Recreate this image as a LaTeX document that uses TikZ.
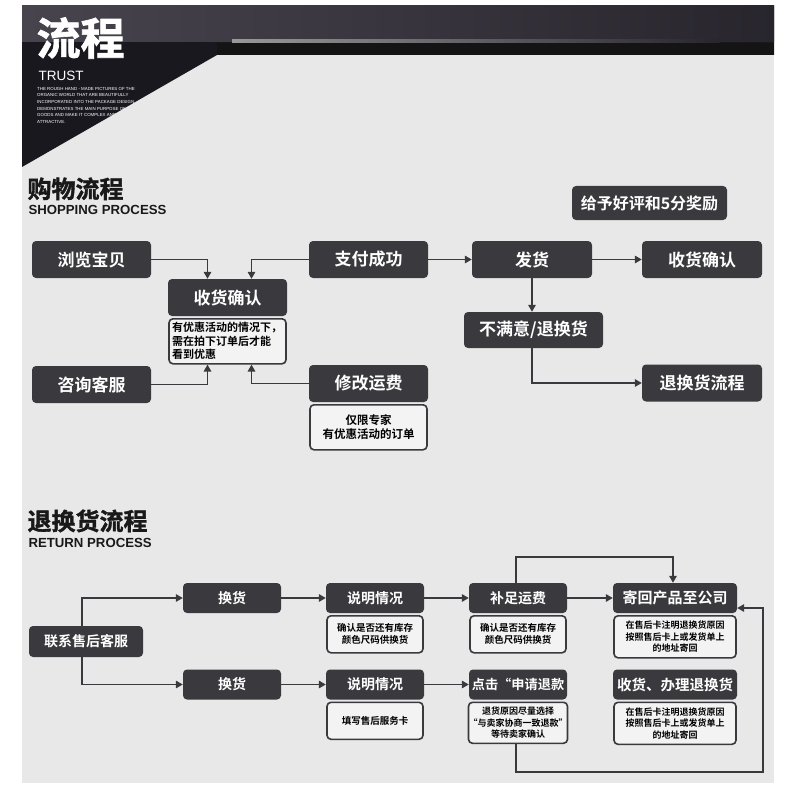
\documentclass[tikz,border=0pt]{standalone}
\usepackage{fontspec}
\setmainfont{Noto Sans CJK SC}[BoldFont={Noto Sans CJK SC Bold}]
\newfontfamily\latin{Liberation Sans}
\usetikzlibrary{arrows.meta,positioning,calc}
\definecolor{boxgray}{RGB}{58,57,62}
\definecolor{bggray}{RGB}{232,232,232}
\definecolor{notefill}{RGB}{243,243,243}
\definecolor{headdark}{RGB}{26,24,31}
\definecolor{headband}{RGB}{72,68,78}

\begin{document}
\begin{tikzpicture}[x=1pt,y=-1pt,>=Stealth,
  box/.style={fill=boxgray,rounded corners=4pt,text=white,inner sep=0pt,
              minimum width=119pt,minimum height=37pt,
              font=\bfseries\fontsize{17}{19}\selectfont},
  note/.style={draw=boxgray,line width=1.6pt,fill=notefill,rounded corners=4pt,
               inner sep=0pt,align=center,minimum width=117pt,minimum height=45pt,
               font=\bfseries\fontsize{11}{13.5}\selectfont},
  sbox/.style={fill=boxgray,rounded corners=4pt,text=white,inner sep=0pt,
               minimum width=98pt,minimum height=30pt,
               font=\bfseries\fontsize{14}{16}\selectfont},
  snote/.style={draw=boxgray,line width=1.6pt,fill=notefill,rounded corners=4pt,
                inner sep=0pt,align=center,minimum width=96pt,minimum height=37pt,
                font=\bfseries\fontsize{9.5}{12}\selectfont},
  head/.style={anchor=north west,text=black!90,
               font=\bfseries\addfontfeature{FakeBold=1.5}\fontsize{24}{24}\selectfont},
  subhead/.style={anchor=north west,text=black!90,font=\latin\bfseries\fontsize{13.2}{13.2}\selectfont},
  link/.style={draw=boxgray,line width=1.6pt,-{Triangle[length=7pt,width=7.5pt]}}]
\useasboundingbox (0,0) rectangle (790,805);
\fill[white] (0,0) rectangle (790,805);
\fill[bggray] (22,6) rectangle (774,783);

% header
\fill[headdark] (22,6) -- (774,6) -- (774,55) -- (217,55) -- (22,167) -- cycle;
\shade[left color=headband,right color=headdark!70!headband] (22,6) rectangle (774,42);
\fill[black!92] (217,43) rectangle (774,55);
\shade[left color=gray!80,right color=headdark!70!headband] (232,40) rectangle (720,43);
\node[anchor=west,text=white,font=\bfseries\addfontfeature{FakeBold=1.5}\fontsize{44}{44}\selectfont]
  (title) at (33,38) {流程};
\node[anchor=north west,text=white,font=\latin\fontsize{13.5}{13.5}\selectfont] (trust) at (35,68) {TRUST};
\begin{scope}
  \clip (22,55) -- (217,55) -- (22,167) -- cycle;
  \node[anchor=north west,text=white,align=left,inner sep=0pt,
        font=\latin\fontsize{4.4}{6.6}\selectfont] (blurb) at (37,87)
    {THE ROUGH HAND - MADE PICTURES OF THE\\ORGANIC WORLD THAT ARE BEAUTIFULLY\\
     INCORPORATED INTO THE PACKAGE DESIGN\\DEMONSTRATES THE MAIN PURPOSE OF THE\\
     GOODS AND MAKE IT COMPLEX AND\\ATTRACTIVE.};
\end{scope}

% shopping process
\node[head] (shoptitle) at (24,174) {购物流程};
\node[subhead] (shopsub) at (25,202) {SHOPPING PROCESS};
\node[box] (browse) at (91.5,259.5) {浏览宝贝};
\node[box] (confirm) at (227.5,297.5) {收货确认};
\node[note,below=1.8pt of confirm,align=left,text width=111pt] (confirmnote)
  {有优惠活动的情况下，\\需在拍下订单后才能\\看到优惠};
\node[box] (consult) at (91.5,384.5) {咨询客服};
\node[box] (pay) at (368.5,259.5) {支付成功};
\node[box] (freight) at (368.5,383.5) {修改运费};
\node[note,below=1.8pt of freight,font=\bfseries\fontsize{11.5}{14}\selectfont] (freightnote)
  {仅限专家\\有优惠活动的订单};
\node[box,minimum width=155pt,minimum height=34pt,font=\bfseries\fontsize{16}{18}\selectfont]
  (review) at (649.5,203) {给予好评和5分奖励};
\node[box,minimum width=120pt] (ship) at (532,259.5) {发货};
\node[box,minimum width=120pt] (receive) at (702,259.5) {收货确认};
\node[box,minimum width=139pt,minimum height=36pt] (unhappy) at (533.5,330) {不满意/退换货};
\node[box,minimum width=120pt] (returnflow) at (702,383) {退换货流程};

\draw[link] (browse.east) -| ([xshift=-20pt]confirm.north);
\draw[link] (pay.west) -| ([xshift=24pt]confirm.north);
\draw[link] (consult.east) -| ([xshift=-20pt]confirmnote.south);
\draw[link] (freight.west) -| ([xshift=24pt]confirmnote.south);
\draw[link] (pay) -- (ship);
\draw[link] (ship) -- (receive);
\draw[link] (ship.south) -- (ship.south |- unhappy.north);
\draw[link] (ship.south |- unhappy.south) |- (returnflow.west);

% return process
\node[head] (rettitle) at (24,506) {退换货流程};
\node[subhead] (retsub) at (25,535) {RETURN PROCESS};
\node[sbox,minimum width=114pt,minimum height=31pt] (service) at (86,641.5) {联系售后客服};
\node[sbox] (swap1) at (232,598) {换货};
\node[sbox] (swap2) at (232,684.5) {换货};
\node[sbox] (explain1) at (375,598) {说明情况};
\node[snote,below=1.8pt of explain1] (explain1note) {确认是否还有库存\\颜色尺码供换货};
\node[sbox] (explain2) at (375,684.5) {说明情况};
\node[snote,below=1.8pt of explain2] (explain2note) {填写售后服务卡};
\node[sbox] (topup) at (518,598) {补足运费};
\node[snote,below=1.8pt of topup] (topupnote) {确认是否还有库存\\颜色尺码供换货};
\node[sbox,font=\bfseries\fontsize{13.2}{16}\selectfont] (refund) at (518,684.5) {点击“申请退款};
\node[snote,below=1.8pt of refund,minimum height=41pt,font=\bfseries\fontsize{9}{11.5}\selectfont]
  (refundnote) {退货原因尽量选择\\“与卖家协商一致退款”\\等待卖家确认};
\node[sbox,minimum width=124pt,font=\bfseries\fontsize{15}{17}\selectfont] (sendback) at (675,598) {寄回产品至公司};
\node[snote,below=1.8pt of sendback,minimum width=122pt,minimum height=42pt,
      font=\bfseries\fontsize{9}{11.5}\selectfont] (sendbacknote)
  {在售后卡注明退换货原因\\按照售后卡上或发货单上\\的地址寄回};
\node[sbox,minimum width=124pt,font=\bfseries\fontsize{14.5}{17}\selectfont] (handle) at (675,684.5) {收货、办理退换货};
\node[snote,below=1.8pt of handle,minimum width=122pt,minimum height=42pt,
      font=\bfseries\fontsize{9}{11.5}\selectfont] (handlenote)
  {在售后卡注明退换货原因\\按照售后卡上或发货单上\\的地址寄回};
\coordinate (loop) at (763,772);

\draw[link] ([xshift=-4pt]service.north) |- (swap1.west);
\draw[link] ([xshift=-4pt]service.south) |- (swap2.west);
\draw[link] (swap1) -- (explain1);
\draw[link] (swap2) -- (explain2);
\draw[link] (explain1) -- (topup);
\draw[link] (explain2) -- (refund);
\draw[link] (topup) -- (sendback);
\draw[link] ([xshift=-2pt]topup.north) -- ++(0,-26) -| ([xshift=-2pt]sendback.north);
\draw[link] ([xshift=-2pt]refundnote.south) |- (loop) |- ([yshift=-10pt]sendback.east);
\end{tikzpicture}
\end{document}
